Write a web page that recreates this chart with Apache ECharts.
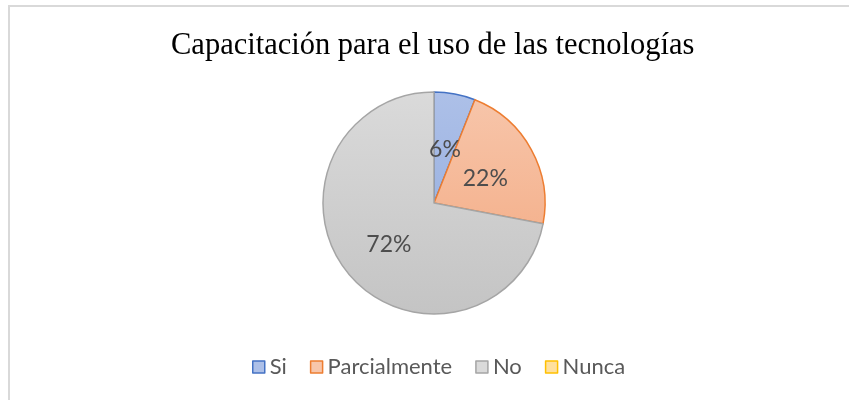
<!DOCTYPE html>
<html>
<head>
<meta charset="utf-8">
<script src="https://cdn.jsdelivr.net/npm/echarts@6/dist/echarts.min.js"></script>
<style>
  html, body { margin: 0; padding: 0; background: #fff; }
  #chart { width: 849px; height: 400px; }
</style>
</head>
<body>
<div id="chart"></div>
<script>
// datos
var categorias = ['Si', 'Parcialmente', 'No', 'Nunca'];
var valores = [6, 22, 72, 0];
var bordes = ['#4472C4', '#ED7D31', '#A5A5A5', '#FFC000'];
var rellenoArriba = ['#adc0e8', '#f7c6ab', '#dadada', '#ffe09e'];
var rellenoAbajo = ['#8fa9dc', '#f3a77e', '#c4c4c4', '#ffd070'];

function relleno(i) {
    return new echarts.graphic.LinearGradient(0, 92, 0, 314, [
        { offset: 0, color: rellenoArriba[i] },
        { offset: 1, color: rellenoAbajo[i] }
    ], true);
}

var datos = [];
var leyenda = [];
for (var i = 0; i < categorias.length; i++) {
    datos.push({
        name: categorias[i],
        value: valores[i],
        itemStyle: {
            color: relleno(i),
            borderColor: bordes[i],
            borderWidth: valores[i] > 0 ? 1.5 : 0
        }
    });
    leyenda.push({
        name: categorias[i],
        itemStyle: {
            color: rellenoArriba[i],
            borderColor: bordes[i],
            borderWidth: 1.5
        }
    });
}

var chart = echarts.init(document.getElementById('chart'), null, { renderer: 'canvas' });
var option = {
    animation: false,
    backgroundColor: '#fff',
    graphic: [{
        type: 'rect',
        shape: { x: 9, y: 6, width: 900, height: 500 },
        style: { fill: 'none', stroke: '#d9d9d9', lineWidth: 2 },
        silent: true
    }],
    title: {
        text: 'Capacitación para el uso de las tecnologías',
        left: 166,
        top: 25,
        textStyle: {
            fontFamily: 'Liberation Serif',
            fontSize: 30.5,
            fontWeight: 'normal',
            color: '#000'
        }
    },
    legend: {
        data: leyenda,
        bottom: 17,
        left: 247,
        itemWidth: 12,
        itemHeight: 12,
        itemGap: 23,
        icon: 'rect',
        textStyle: {
            fontFamily: 'Lato',
            fontSize: 22,
            color: '#595959'
        }
    },
    series: [{
        type: 'pie',
        center: [434, 203],
        radius: 111,
        startAngle: 90,
        clockwise: true,
        label: {
            position: 'inside',
            fontFamily: 'Lato',
            fontSize: 23,
            color: '#4d4d4d',
            offset: [0, 4],
            formatter: function (p) {
                return p.value > 0 ? Math.round(p.percent) + '%' : '';
            }
        },
        labelLine: { show: false },
        emphasis: { disabled: true },
        data: datos
    }]
};
chart.setOption(option);
</script>
</body>
</html>
